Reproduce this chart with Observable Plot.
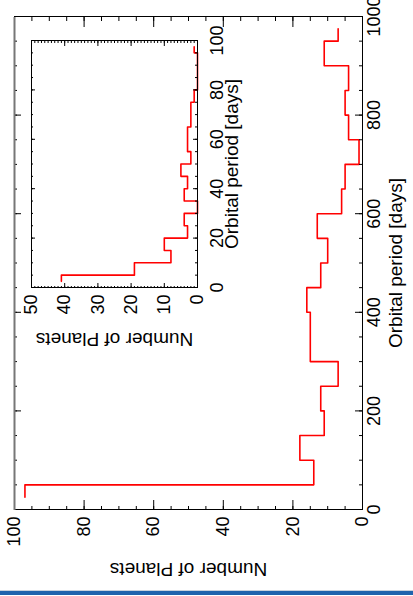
<!DOCTYPE html>
<html><head><meta charset="utf-8">
<script src="https://cdn.jsdelivr.net/npm/d3@7"></script>
<script src="https://cdn.jsdelivr.net/npm/@observablehq/plot@0.6"></script>
<style>
html,body{margin:0;padding:0;background:#fff;width:413px;height:596px;overflow:hidden;}
#page{position:relative;width:413px;height:596px;overflow:hidden;background:#fff;}
#land{position:absolute;left:0;top:0;width:596px;height:413px;transform-origin:0 0;transform:translate(0px,596px) rotate(-90deg);}
#land svg{position:absolute;}
#line1{position:absolute;left:0;top:590px;width:413px;height:1px;background:#c8d2dc;}
#line2{position:absolute;left:0;top:591px;width:413px;height:4px;background:#1f63ad;}
</style></head><body>
<div id="page"><div id="land"></div><div id="line1"></div><div id="line2"></div></div>
<script>
// Main histogram: 50-day bins (bin centers)
const periodCenters = [25,75,125,175,225,275,325,375,425,475,525,575,625,675,725,775,825,875,925,975];
const planetCounts  = [97,14,18,11,12,7,15,15,16,12,10,13,6,5,1,4,5,4,11,7];
// Inset histogram: 5-day bins (bin centers)
const insetPeriodCenters = [2.5,7.5,12.5,17.5,22.5,27.5,32.5,37.5,42.5,47.5,52.5,57.5,62.5,67.5,72.5,77.5,82.5,87.5,92.5,97.5];
const insetPlanetCounts  = [41,19,8,10,3,4,0,4,3,5,2,3,3,2,2,1,0,0,0,1];
// Tick labels
const periodTickLabels = [0,200,400,600,800,1000];
const countTickLabels = [0,20,40,60,80,100];
const insetPeriodTickLabels = [0,20,40,60,80,100];
const insetCountTickLabels = [0,10,20,30,40,50];
const xLabel = "Orbital period [days]";
const yLabel = "Number of Planets";

const FONT = "Liberation Sans, Arial, Helvetica, sans-serif";
const FS = 18;

function frameTicks(o) {
  const s = {stroke: "black", strokeWidth: 1};
  return [
    Plot.ruleX(o.xMin, {x: d => d, insetTop: o.h - o.xMinLen, ...s}),
    Plot.ruleX(o.xMin, {x: d => d, insetBottom: o.h - o.xMinLen, ...s}),
    Plot.ruleX(o.xMaj, {x: d => d, insetTop: o.h - o.xMajLen, ...s}),
    Plot.ruleX(o.xMaj, {x: d => d, insetBottom: o.h - o.xMajLen, ...s}),
    Plot.ruleY(o.yMin, {y: d => d, insetRight: o.w - o.yMinLen, ...s}),
    Plot.ruleY(o.yMin, {y: d => d, insetLeft: o.w - o.yMinLen, ...s}),
    Plot.ruleY(o.yMaj, {y: d => d, insetRight: o.w - o.yMajLen, ...s}),
    Plot.ruleY(o.yMaj, {y: d => d, insetLeft: o.w - o.yMajLen, ...s})
  ];
}

const mainData = periodCenters.map((p, i) => ({period: p, count: planetCounts[i]}));
const insetData = insetPeriodCenters.map((p, i) => ({period: p, count: insetPlanetCounts[i]}));

// Main chart (drawn landscape, then rotated)
const M = {w: 596, h: 413, l: 86, r: 17, t: 14, b: 51};
const mainPlot = Plot.plot({
  width: M.w, height: M.h,
  marginLeft: M.l, marginRight: M.r, marginTop: M.t, marginBottom: M.b,
  style: {background: "transparent", fontFamily: FONT, overflow: "visible"},
  x: {domain: [0, 1000], axis: null},
  y: {domain: [0, 100], axis: null},
  marks: [
    Plot.line(mainData, {x: "period", y: "count", curve: "step", stroke: "#ff0000", strokeWidth: 1.6}),
    ...frameTicks({
      xMaj: periodTickLabels, xMin: d3.range(0, 1001, 50),
      yMaj: countTickLabels, yMin: d3.range(0, 101, 5),
      w: M.w - M.l - M.r, h: M.h - M.t - M.b,
      xMajLen: 7, xMinLen: 3, yMajLen: 10, yMinLen: 4
    }),
    Plot.frame({stroke: "black", strokeWidth: 1}),
    Plot.ruleY([100], {stroke: "#777", strokeWidth: 2}),
    Plot.text(periodTickLabels, {x: d => d, frameAnchor: "bottom", dy: 17, text: d => String(d), fontSize: FS, fontFamily: FONT, fill: "black"}),
    Plot.text(countTickLabels, {y: d => d, frameAnchor: "left", textAnchor: "end", dx: -7, text: d => String(d), fontSize: FS, fontFamily: FONT, fill: "black"}),
    Plot.text([xLabel], {frameAnchor: "bottom", textAnchor: "middle", dy: 39, text: d => d, fontSize: 19, fontFamily: FONT, fill: "black"}),
    Plot.text([yLabel], {frameAnchor: "left", textAnchor: "middle", dx: -60, rotate: -90, text: d => d, fontSize: 19, fontFamily: FONT, fill: "black"})
  ]
});
mainPlot.style.left = "0px"; mainPlot.style.top = "0px";

// Inset chart
const I = {w: 347, h: 236, l: 80, r: 20, t: 10, b: 60};
const insetPlot = Plot.plot({
  width: I.w, height: I.h,
  marginLeft: I.l, marginRight: I.r, marginTop: I.t, marginBottom: I.b,
  style: {background: "transparent", fontFamily: FONT, overflow: "visible"},
  x: {domain: [0, 100], axis: null},
  y: {domain: [0, 50], axis: null},
  marks: [
    Plot.frame({fill: "white", stroke: "none"}),
    Plot.line(insetData, {x: "period", y: "count", curve: "step", stroke: "#ff0000", strokeWidth: 1.6}),
    ...frameTicks({
      xMaj: insetPeriodTickLabels, xMin: d3.range(0, 101, 5),
      yMaj: insetCountTickLabels, yMin: d3.range(0, 51, 1),
      w: I.w - I.l - I.r, h: I.h - I.t - I.b,
      xMajLen: 4, xMinLen: 2, yMajLen: 5, yMinLen: 2
    }),
    Plot.frame({stroke: "black", strokeWidth: 1}),
    Plot.text(insetPeriodTickLabels, {x: d => d, frameAnchor: "bottom", dy: 25, text: d => String(d), fontSize: FS, fontFamily: FONT, fill: "black"}),
    Plot.text(insetCountTickLabels, {y: d => d, frameAnchor: "left", textAnchor: "end", dx: -7, text: d => String(d), fontSize: FS, fontFamily: FONT, fill: "black"}),
    Plot.text([xLabel], {frameAnchor: "bottom", textAnchor: "middle", dy: 40, text: d => d, fontSize: 19, fontFamily: FONT, fill: "black"}),
    Plot.text([yLabel], {frameAnchor: "left", textAnchor: "middle", dx: -52, rotate: -90, text: d => d, fontSize: 19, fontFamily: FONT, fill: "black"})
  ]
});
insetPlot.style.left = "228px"; insetPlot.style.top = "21px";

const land = document.getElementById("land");
land.appendChild(mainPlot);
land.appendChild(insetPlot);
</script>
</body></html>
